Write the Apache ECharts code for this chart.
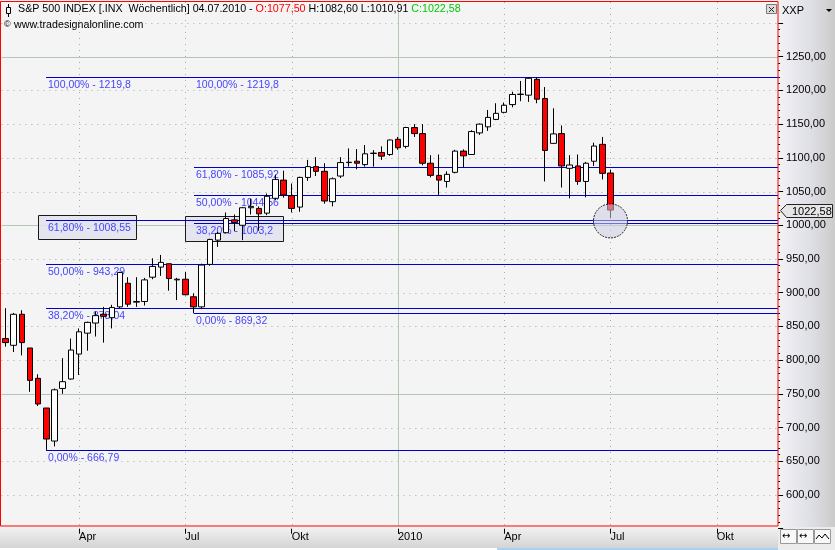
<!DOCTYPE html>
<html><head><meta charset="utf-8">
<script src="https://cdn.jsdelivr.net/npm/echarts@6/dist/echarts.min.js"></script>
<style>
html,body{margin:0;padding:0;background:#fff;}
#wrap{position:relative;width:835px;height:550px;overflow:hidden;}
.bg{position:absolute;}
#chart{position:absolute;left:0;top:0;width:835px;height:550px;}
</style></head><body>
<div id="wrap">
<div class="bg" style="left:0;top:0;width:778px;height:527px;background:#f4f4f4"></div>
<div class="bg" style="left:778px;top:0;width:57px;height:527px;background:linear-gradient(to right,#f3f3f5 0%,#e8e8ef 30%,#dfdfe6 55%,#d5d5d7 80%,#cacaca 100%)"></div>
<div class="bg" style="left:0;top:527px;width:778px;height:21px;background:linear-gradient(#f2f2f2,#d4d4d4)"></div>
<div class="bg" style="left:778px;top:527px;width:57px;height:23px;background:#ececec"></div>
<div class="bg" style="left:0;top:548px;width:778px;height:2px;background:#fff"></div>
<div class="bg" style="left:497px;top:548px;width:281px;height:2px;background:#a8d0f0"></div>
<div id="chart"></div>
</div>
<script>
// ---------- DATA ----------
const firstWeek = [2009, 0, 30];   // week ending Fri 30.01.2009
const weekCount = 95;
const tickDates = ['2009-04-03','2009-07-03','2009-10-02','2010-01-01','2010-04-02','2010-07-02','2010-10-01'];
const tickTexts = ['Apr','Jul','Okt','2010','Apr','Jul','Okt'];
const yearTick = '2010-01-01';

const open  = [832,822,868,818,773,729,680,758,772,809,840,855,868,863,879,914,886,887,923,938,943,919,920,894,879,942,978,989,1008,1000,1026,1025,1018,1040,1067,1044,1027,1071,1087,1080,1035,1073,1093,1095,1090,1106.5,1108,1105,1127.5,1117,1145,1136,1092,1074,1065,1078.5,1110,1105,1137,1146,1157,1167.5,1179,1194,1193,1216.5,1188,1121.5,1136,1084.5,1088,1065,1095,1120,1077.5];
const close = [826,868,826,770,735,683,756,768,815,842,856,866,865,878,930,883,887,919,939,945,921,920,897,879,941,979,988,1010,1004,1026,1028,1017,1043,1068,1045,1025,1071,1087,1080,1036,1069,1093,1093.5,1092,1106,1107,1102.5,1126.5,1115,1145,1136,1092,1074,1067,1075.5,1110,1103,1139,1150,1160,1166,1178,1194,1194.5,1218,1187,1111,1135.5,1088,1089.4,1065,1092,1117.5,1077,1022.58];
const low   = [820,812,807,753,732,666.79,672,750,771,778,814,835,826,847,877,879,879,881,920,925,903,889,896,869.32,876,940,968,988,991,978,1016,992,1015,1037,1041,1019,1020,1066,1073,1032,1028,1070,1087,1083,1087,1087,1097,1103,1112,1114,1131,1089,1071,1045,1056,1077,1086,1105,1134,1140,1156,1166,1175,1184,1183,1181,1065,1121,1056,1040,1060,1041.5,1088,1068,1010.91];
const high  = [877,870,874,818,779,729,758,803,832,847,857,872,879,882,931,923,923,922,951,956,943,922,931,899,943,980,990,1019,1016,1027,1039,1028,1047,1075,1081,1062,1072,1097,1101,1092,1071,1101,1114,1113,1119,1111.5,1117,1127,1131,1146,1150,1150,1104,1105,1080,1112,1112.6,1141,1151,1171,1181,1182,1198,1214,1219.5,1219.8,1205,1173.5,1148,1104,1105,1094,1122.5,1131,1082.6];

const yTicks = [600,650,700,750,800,850,900,950,1000,1050,1100,1150,1200,1250,1300];
const solidYTicks = [750,1000,1250];

const fibLevels = ['0,00%','38,20%','50,00%','61,80%','100,00%'];
const fibAStart = '2009-03-06';
const fibAValues = [666.79, 878.04, 943.29, 1008.55, 1219.8];
const fibAText = ['666,79','878,04','943,29','1008,55','1219,8'];
const fibBStart = '2009-07-10';
const fibBValues = [869.32, 1003.2, 1044.56, 1085.92, 1219.8];
const fibBText = ['869,32','1003,2','1044,56','1085,92','1219,8'];

// annotation boxes (category position from/to, value top/bottom)
const boxFrom = [3.9, 21.9];
const boxTo = [15.9, 34.0];
const boxTop = [1015.2, 1013.8];
const boxBottom = [979.2, 977.1];

const circleWeek = '2010-07-02';
const circleValue = 1006.5;
const lastClose = 1022.58;
const lastCloseText = '1022,58';

// ---------- BUILD ----------
const categories = [];
for (let i = 0; i < weekCount; i++) {
  const d = new Date(Date.UTC(firstWeek[0], firstWeek[1], firstWeek[2] + 7 * i));
  categories.push(d.toISOString().slice(0, 10));
}
const idx = d => categories.indexOf(d);
const candles = open.map((o, i) => [o, close[i], low[i], high[i]]);
const tickIdx = tickDates.map(idx);
const isTick = i => tickIdx.indexOf(i) >= 0;

const fibData = [], fibLabels = [];
fibAValues.forEach((v, i) => { fibData.push([idx(fibAStart), v]); fibLabels.push(fibLevels[i] + ' - ' + fibAText[i]); });
fibBValues.forEach((v, i) => { fibData.push([idx(fibBStart), v]); fibLabels.push(fibLevels[i] + ' - ' + fibBText[i]); });

const PLOT_TOP = 2, PLOT_BOTTOM = 526;
const FONT = '11px "Liberation Sans", Arial, sans-serif';
const FIBFONT = '10.5px "Liberation Sans", Arial, sans-serif';
const TITLEFONT = '10.7px "Liberation Sans", Arial, sans-serif';
const crisp = v => Math.round(v) + 0.5;

const chart = echarts.init(document.getElementById('chart'), null, {renderer: 'canvas'});
const option = {
  animation: false,
  backgroundColor: 'transparent',
  grid: {left: 1.41, right: 56.9, top: 23.0, bottom: 21.3, containLabel: false},
  xAxis: {
    type: 'category', data: categories, boundaryGap: true,
    axisLine: {show: false},
    axisTick: {show: true, alignWithLabel: true, length: 5, interval: (i) => isTick(i), lineStyle: {color: '#000'}},
    axisLabel: {show: true, interval: (i) => isTick(i), align: 'left', margin: 3, fontSize: 11,
      fontFamily: '"Liberation Sans", Arial, sans-serif', color: '#000',
      formatter: (v) => { const k = tickDates.indexOf(v); return k >= 0 ? tickTexts[k] : ''; }},
    splitLine: {show: false}
  },
  yAxis: {
    type: 'value', position: 'right', min: 550, max: 1300, interval: 50,
    axisLine: {show: false},
    axisTick: {show: true, length: 5, lineStyle: {color: '#000'}},
    minorTick: {show: true, splitNumber: 5, length: 2, lineStyle: {color: '#000'}},
    axisLabel: {margin: 8, fontSize: 11, color: '#000', fontFamily: '"Liberation Sans", Arial, sans-serif',
      formatter: (v) => (v >= 600 && v <= 1250) ? v.toFixed(2).replace('.', ',') : ''},
    splitLine: {show: false}
  },
  series: [
    { // vertical grid lines
      type: 'custom', z: 0, silent: true, clip: false,
      data: tickIdx.map(i => [i, 1000]),
      encode: {x: 0, y: 1},
      renderItem: (params, api) => {
        const x = crisp(api.coord([api.value(0), 1000])[0]);
        const solid = categories[api.value(0)] === yearTick;
        return {type: 'line', shape: {x1: x, y1: PLOT_TOP, x2: x, y2: PLOT_BOTTOM},
          style: solid ? {stroke: '#b4c8b4', lineWidth: 1} : {stroke: '#a4aca4', lineWidth: 1, lineDash: [1, 5]}};
      }
    },
    { // horizontal grid lines
      type: 'custom', z: 0, silent: true, clip: false,
      data: yTicks.map(v => [0, v]),
      encode: {x: 0, y: 1},
      renderItem: (params, api) => {
        const cs = params.coordSys;
        const v = api.value(1);
        const y = crisp(api.coord([0, v])[1]);
        const solid = solidYTicks.indexOf(v) >= 0;
        return {type: 'line', shape: {x1: cs.x, y1: y, x2: cs.x + cs.width, y2: y},
          style: solid ? {stroke: '#b4c8b4', lineWidth: 1} : {stroke: '#a4aca4', lineWidth: 1, lineDash: [1, 5]}};
      }
    },
    { // annotation boxes
      type: 'custom', z: 1, silent: true, clip: false,
      data: boxFrom.map((f, i) => [f, boxTop[i], boxTo[i], boxBottom[i]]),
      encode: {x: [0, 2], y: [1, 3]},
      renderItem: (params, api) => {
        const p1 = api.coord([api.value(0), api.value(1)]);
        const p2 = api.coord([api.value(2), api.value(3)]);
        const x = crisp(p1[0]), y = crisp(p1[1]);
        return {type: 'rect', shape: {x: x, y: y, width: Math.round(p2[0] - p1[0]), height: Math.round(p2[1] - p1[1])},
          style: {fill: 'rgba(226,226,238,0.85)', stroke: '#1a1a1a', lineWidth: 1}};
      }
    },
    { // fibonacci lines + labels
      type: 'custom', z: 2, silent: true, clip: false,
      data: fibData, encode: {x: 0, y: 1},
      renderItem: (params, api) => {
        const cs = params.coordSys;
        const p = api.coord([api.value(0), api.value(1)]);
        const y = crisp(p[1]);
        return {type: 'group', children: [
          {type: 'line', shape: {x1: Math.round(p[0]), y1: y, x2: cs.x + cs.width, y2: y}, style: {stroke: '#0000cc', lineWidth: 1}},
          {type: 'text', style: {text: fibLabels[params.dataIndex], x: Math.round(p[0]) + 2, y: y + 2, fill: '#4646ff', font: FIBFONT, verticalAlign: 'top'}}
        ]};
      }
    },
    {
      type: 'candlestick', z: 3, name: 'S&P 500', data: candles, barWidth: 6,
      itemStyle: {color: '#ffffff', color0: '#ff0000', borderColor: '#000000', borderColor0: '#000000', borderColorDoji: '#000000', borderWidth: 1}
    },
    { // circle highlight
      type: 'custom', z: 4, silent: true, clip: false,
      data: [[idx(circleWeek), circleValue]], encode: {x: 0, y: 1},
      renderItem: (params, api) => {
        const p = api.coord([api.value(0), api.value(1)]);
        return {type: 'circle', shape: {cx: p[0], cy: p[1], r: 17},
          style: {fill: 'rgba(205,205,230,0.55)', stroke: '#222', lineWidth: 1, lineDash: [2, 1]}};
      }
    },
    { // last price tag
      type: 'custom', z: 5, silent: true, clip: false,
      data: [[idx(circleWeek), lastClose]], encode: {x: 0, y: 1},
      renderItem: (params, api) => {
        const cs = params.coordSys;
        const x0 = Math.round(cs.x + cs.width);
        const y = Math.round(api.coord([api.value(0), api.value(1)])[1]) + 0.5;
        return {type: 'group', children: [
          {type: 'polygon', shape: {points: [[x0 + 2.5, y], [x0 + 8.5, y - 6], [x0 + 54.5, y - 6], [x0 + 54.5, y + 7], [x0 + 8.5, y + 7]]},
            style: {fill: '#e6e6e6', stroke: '#222', lineWidth: 1}},
          {type: 'text', style: {text: lastCloseText, x: x0 + 14, y: y + 1, fill: '#000', font: FONT, verticalAlign: 'middle'}}
        ]};
      }
    }
  ],
  graphic: [
    {type: 'rect', z: 100, silent: true, shape: {x: 0.5, y: 1.5, width: 777.5, height: 524.5}, style: {fill: 'none', stroke: '#ff0000', lineWidth: 1}},
    {type: 'line', z: 100, silent: true, shape: {x1: 8.5, y1: 4, x2: 8.5, y2: 17}, style: {stroke: '#000', lineWidth: 1}},
    {type: 'rect', z: 101, silent: true, shape: {x: 6.5, y: 7.5, width: 4, height: 6}, style: {fill: '#f4f4f4', stroke: '#000', lineWidth: 1}},
    {type: 'text', z: 100, silent: true, x: 18, y: 4, style: {
      text: '{a|S&P 500 INDEX [.INX  Wöchentlich] 04.07.2010 - }{r|O:1077,50}{a| H:1082,60 L:1010,91 }{g|C:1022,58}',
      font: TITLEFONT, fill: '#000',
      rich: {a: {fill: '#000', font: TITLEFONT}, r: {fill: '#ff0000', font: TITLEFONT}, g: {fill: '#00c800', font: TITLEFONT}}}},
    {type: 'text', z: 100, silent: true, x: 4, y: 20, style: {text: '©', font: '9px "Liberation Sans", Arial', fill: '#000'}},
    {type: 'text', z: 100, silent: true, x: 14, y: 20, style: {text: 'www.tradesignalonline.com', font: TITLEFONT, fill: '#000'}},
    {type: 'rect', z: 100, silent: true, shape: {x: 766.5, y: 4.5, width: 10, height: 9}, style: {fill: '#dcdcdc', stroke: '#7a7a7a', lineWidth: 1}},
    {type: 'line', z: 101, silent: true, shape: {x1: 769, y1: 7, x2: 774, y2: 12}, style: {stroke: '#222', lineWidth: 1}},
    {type: 'line', z: 101, silent: true, shape: {x1: 774, y1: 7, x2: 769, y2: 12}, style: {stroke: '#222', lineWidth: 1}},
    {type: 'text', z: 100, silent: true, x: 782, y: 5, style: {text: 'XXP', font: FONT, fill: '#000'}},
    {type: 'polygon', z: 100, silent: true, shape: {points: [[826, 9], [832, 9], [829, 12]]}, style: {fill: '#000'}},
    {type: 'rect', z: 100, silent: true, shape: {x: 780.5, y: 529.5, width: 16, height: 14}, style: {fill: '#f8f8f8', stroke: '#9a9a9a', lineWidth: 1}},
    {type: 'rect', z: 100, silent: true, shape: {x: 797.5, y: 529.5, width: 16, height: 14}, style: {fill: '#f8f8f8', stroke: '#9a9a9a', lineWidth: 1}},
    {type: 'rect', z: 100, silent: true, shape: {x: 814.5, y: 529.5, width: 16, height: 14}, style: {fill: '#f8f8f8', stroke: '#9a9a9a', lineWidth: 1}},
    {type: 'text', z: 101, silent: true, x: 782, y: 531, style: {text: '↔', font: '10px "DejaVu Sans"', fill: '#000'}},
    {type: 'text', z: 101, silent: true, x: 799, y: 531, style: {text: '↔', font: '10px "DejaVu Sans"', fill: '#000'}},
    {type: 'polyline', z: 101, silent: true, shape: {points: [[816, 539], [819, 535], [822, 538], [825, 534], [829, 539]]}, style: {stroke: '#000', lineWidth: 1, fill: 'none'}}
  ]
};
chart.setOption(option);
</script>
</body></html>
